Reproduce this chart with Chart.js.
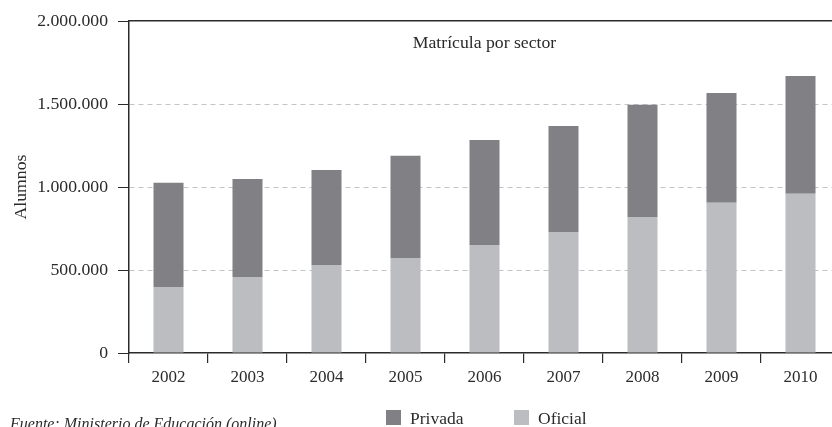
<!DOCTYPE html>
<html>
<head>
<meta charset="utf-8">
<script src="https://cdn.jsdelivr.net/npm/chart.js@4.4.1/dist/chart.umd.min.js"></script>
<style>
  html, body { margin: 0; padding: 0; background: #fff; overflow: hidden; }
  #wrap { width: 850px; height: 427px; }
</style>
</head>
<body>
<div id="wrap"><canvas id="chart" width="850" height="427"></canvas></div>
<script>
const years = ['2002','2003','2004','2005','2006','2007','2008','2009','2010'];
const oficial = [398000, 458000, 530000, 572000, 651000, 729000, 819000, 905000, 960000];
const privada = [627000, 590000, 572000, 617000, 632000, 638000, 677000, 661000, 709000];
const yTicks = [0, 500000, 1000000, 1500000, 2000000];
const chartTitle = 'Matrícula por sector';
const yTitle = 'Alumnos';
const sourceNote = 'Fuente: Ministerio de Educación (online)';

const SERIF = '"Liberation Serif", "DejaVu Serif", serif';
const INK = '#2b2b2b';

function fmt(v) { return String(v).replace(/\B(?=(\d{3})+(?!\d))/g, '.'); }

// title inside the plot, custom legend and source line at the bottom
const overlay = {
  id: 'overlay',
  afterDraw(chart) {
    const { ctx, chartArea } = chart;
    ctx.save();
    ctx.fillStyle = INK;
    ctx.font = '17.7px ' + SERIF;
    ctx.textAlign = 'center';
    ctx.textBaseline = 'middle';
    ctx.fillText(chartTitle, (chartArea.left + chartArea.right) / 2, chartArea.top + 22);

    // legend: Privada first, then Oficial
    const items = [chart.data.datasets[1], chart.data.datasets[0]];
    const pos = [386, 514];
    ctx.font = '17.5px ' + SERIF;
    ctx.textAlign = 'left';
    ctx.textBaseline = 'alphabetic';
    items.forEach((ds, i) => {
      ctx.fillStyle = ds.backgroundColor;
      ctx.fillRect(pos[i], 410, 15, 15);
      ctx.fillStyle = INK;
      ctx.fillText(ds.label, pos[i] + 24, 424);
    });

    ctx.font = 'italic 16px ' + SERIF;
    ctx.fillText(sourceNote, 10, 429);
    ctx.restore();
  }
};

new Chart(document.getElementById('chart').getContext('2d'), {
  type: 'bar',
  data: {
    labels: years,
    datasets: [
      { label: 'Oficial', data: oficial, backgroundColor: '#bcbdc1', borderWidth: 0 },
      { label: 'Privada', data: privada, backgroundColor: '#818185', borderWidth: 0 }
    ]
  },
  options: {
    responsive: false,
    animation: false,
    categoryPercentage: 1,
    barPercentage: 0.38,
    layout: { padding: { left: 0, right: 10, top: 0, bottom: 34 } },
    plugins: { legend: { display: false }, tooltip: { enabled: false } },
    scales: {
      x: {
        stacked: true,
        grid: { offset: true, drawOnChartArea: false, tickLength: 10, tickColor: INK, lineWidth: 1.2 },
        border: { display: true, color: INK, width: 1.5 },
        ticks: { color: INK, font: { family: SERIF, size: 17 }, padding: 4, maxRotation: 0 },
        afterFit: s => { s.height = 40; }
      },
      xTop: {
        type: 'category',
        position: 'top',
        grid: { drawOnChartArea: false, drawTicks: false },
        border: { display: true, color: INK, width: 1.5 },
        ticks: { display: false },
        afterFit: s => { s.height = 21; }
      },
      y: {
        stacked: true,
        min: 0,
        max: 2000000,
        afterBuildTicks: s => { s.ticks = yTicks.map(v => ({ value: v })); },
        grid: {
          color: c => (c.tick && (c.tick.value === 0 || c.tick.value === 2000000)) ? 'rgba(0,0,0,0)' : '#c4c4c4',
          tickColor: INK,
          tickLength: 11,
          tickBorderDash: [],
          lineWidth: 1
        },
        border: { display: true, color: INK, width: 1.5, dash: [5, 4] },
        ticks: { color: INK, font: { family: SERIF, size: 17.7 }, padding: 10, callback: v => fmt(v) },
        title: { display: true, text: yTitle, color: INK, font: { family: SERIF, size: 17.7 }, padding: { top: 11, bottom: 0 } },
        afterFit: s => { s.width = 129; }
      }
    }
  },
  plugins: [overlay]
});
</script>
</body>
</html>
